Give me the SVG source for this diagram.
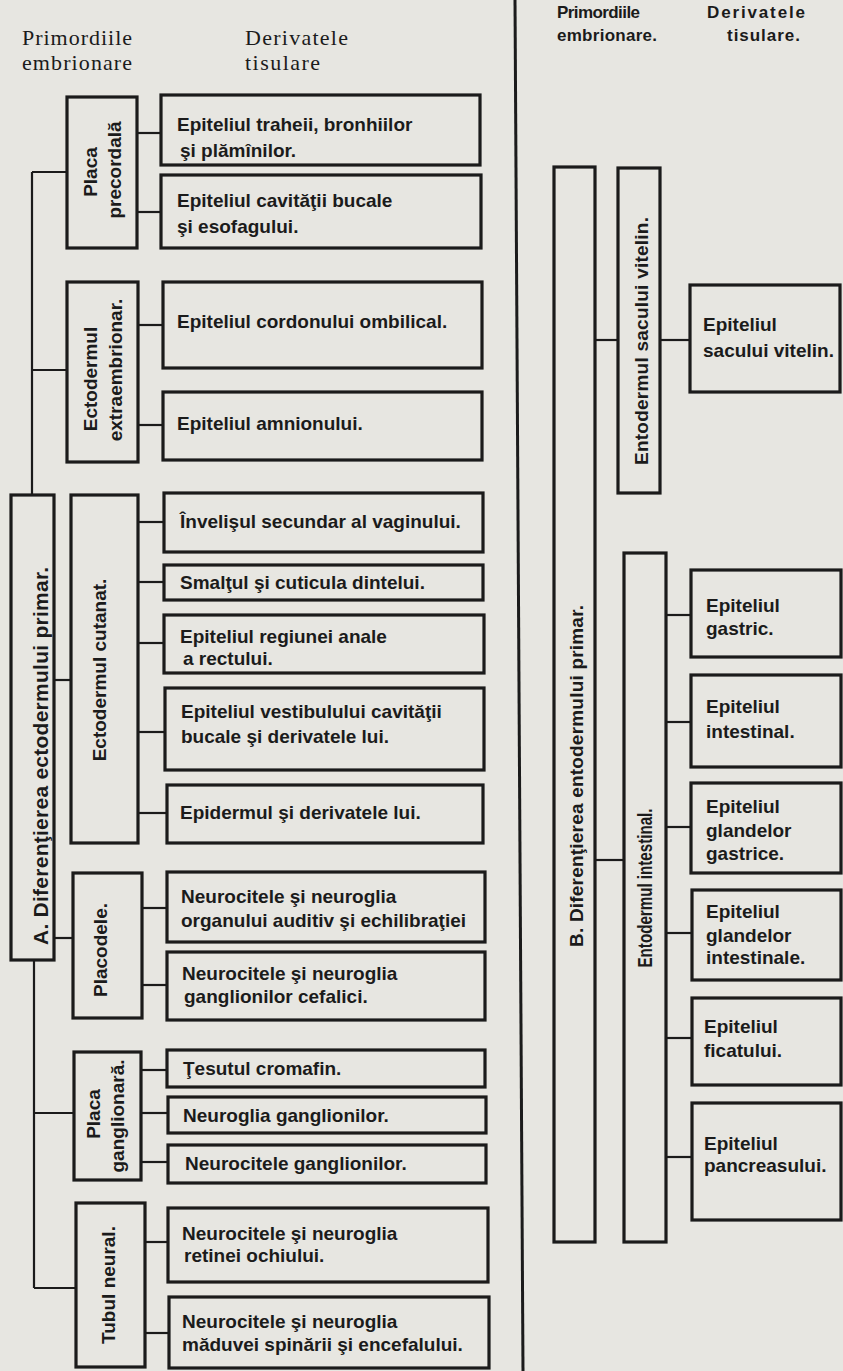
<svg xmlns="http://www.w3.org/2000/svg" width="843" height="1371" viewBox="0 0 843 1371">
<style>
.box{fill:none;stroke:#1b1b1b;stroke-width:3.2}
.conn line{stroke:#1b1b1b;stroke-width:2.2}
.t{font-family:"Liberation Sans",Arial,sans-serif;font-weight:bold;font-size:19px;fill:#1b1b1b}
.v{font-family:"Liberation Sans",Arial,sans-serif;font-weight:bold;font-size:19px;fill:#1b1b1b;text-anchor:middle}
.hs{font-family:"Liberation Serif","Times New Roman",serif;font-size:22px;fill:#1b1b1b}
.hb{font-family:"Liberation Sans",Arial,sans-serif;font-weight:bold;font-size:17px;fill:#1b1b1b}
</style>
<rect x="0" y="0" width="843" height="1371" fill="#e7e6e1"/>

<g id="headers">
<text class="hs" x="22" y="45" textLength="110">Primordiile</text>
<text class="hs" x="22" y="69.5" textLength="110">embrionare</text>
<text class="hs" x="245" y="45" textLength="103">Derivatele</text>
<text class="hs" x="245" y="69.5" textLength="75">tisulare</text>
<text class="hb" x="557" y="18" textLength="83">Primordiile</text>
<text class="hb" x="557" y="41" textLength="100">embrionare.</text>
<text class="hb" x="707" y="18" textLength="98">Derivatele</text>
<text class="hb" x="727" y="41" textLength="73">tisulare.</text>
</g>

<g id="connectors" class="conn">
<line x1="515" y1="0" x2="523" y2="1371" style="stroke-width:3"/>
<line x1="32" y1="172" x2="32" y2="495"/>
<line x1="32" y1="172" x2="67" y2="172"/>
<line x1="32" y1="370" x2="67" y2="370"/>
<line x1="34" y1="960" x2="34" y2="1288"/>
<line x1="34" y1="1113" x2="74" y2="1113"/>
<line x1="34" y1="1288" x2="76" y2="1288"/>
<line x1="54" y1="680" x2="71" y2="680"/>
<line x1="54" y1="938" x2="73" y2="938"/>
<line x1="137" y1="133" x2="161" y2="133"/>
<line x1="137" y1="212" x2="161" y2="212"/>
<line x1="138" y1="325" x2="163" y2="325"/>
<line x1="138" y1="425" x2="163" y2="425"/>
<line x1="138" y1="522" x2="164" y2="522"/>
<line x1="138" y1="582" x2="164" y2="582"/>
<line x1="138" y1="643" x2="164" y2="643"/>
<line x1="138" y1="732" x2="165" y2="732"/>
<line x1="138" y1="813" x2="167" y2="813"/>
<line x1="142" y1="908" x2="167" y2="908"/>
<line x1="142" y1="985" x2="167" y2="985"/>
<line x1="141" y1="1070" x2="167" y2="1070"/>
<line x1="141" y1="1113" x2="167" y2="1113"/>
<line x1="141" y1="1162" x2="168" y2="1162"/>
<line x1="145" y1="1242" x2="168" y2="1242"/>
<line x1="145" y1="1333" x2="168" y2="1333"/>
<line x1="595" y1="340" x2="618" y2="340"/>
<line x1="660" y1="340" x2="690" y2="340"/>
<line x1="595" y1="860" x2="624" y2="860"/>
<line x1="666" y1="615" x2="691" y2="615"/>
<line x1="666" y1="722" x2="691" y2="722"/>
<line x1="666" y1="827" x2="691" y2="827"/>
<line x1="666" y1="933" x2="692" y2="933"/>
<line x1="666" y1="1038" x2="692" y2="1038"/>
<line x1="666" y1="1157" x2="692" y2="1157"/>
</g>

<g id="placa-precordala">
<rect class="box" x="67" y="97" width="70" height="151"/>
<text class="v" transform="translate(97,172) rotate(-90)">Placa</text>
<text class="v" transform="translate(121,170) rotate(-90)">precordală</text>
</g>
<g id="ectoderm-extraembrionar">
<rect class="box" x="67" y="282" width="71" height="180"/>
<text class="v" transform="translate(97,379) rotate(-90)">Ectodermul</text>
<text class="v" transform="translate(122,370) rotate(-90)">extraembrionar.</text>
</g>
<g id="A-ectoderm-primar">
<rect class="box" x="11" y="495" width="43" height="465"/>
<text class="v" transform="translate(48,756) rotate(-90)" textLength="378" style="font-size:21px">A. Diferenţierea ectodermului primar.</text>
</g>
<g id="ectoderm-cutanat">
<rect class="box" x="71" y="495" width="67" height="348"/>
<text class="v" transform="translate(106,670) rotate(-90)">Ectodermul cutanat.</text>
</g>
<g id="placodele">
<rect class="box" x="73" y="873" width="69" height="145"/>
<text class="v" transform="translate(107,950) rotate(-90)">Placodele.</text>
</g>
<g id="placa-ganglionara">
<rect class="box" x="74" y="1052" width="67" height="128"/>
<text class="v" transform="translate(100,1114) rotate(-90)">Placa</text>
<text class="v" transform="translate(124,1116) rotate(-90)">ganglionară.</text>
</g>
<g id="tubul-neural">
<rect class="box" x="76" y="1203" width="69" height="164"/>
<text class="v" transform="translate(115,1285) rotate(-90)">Tubul neural.</text>
</g>

<g id="d1">
<rect class="box" x="161" y="95" width="319" height="70"/>
<text class="t" x="177" y="131">Epiteliul traheii, bronhiilor</text>
<text class="t" x="180" y="157">şi plămînilor.</text>
</g>
<g id="d2">
<rect class="box" x="161" y="175" width="320" height="73"/>
<text class="t" x="177" y="207">Epiteliul cavităţii bucale</text>
<text class="t" x="177" y="233">şi esofagului.</text>
</g>
<g id="d3">
<rect class="box" x="163" y="282" width="319" height="86"/>
<text class="t" x="177" y="328">Epiteliul cordonului ombilical.</text>
</g>
<g id="d4">
<rect class="box" x="163" y="392" width="319" height="68"/>
<text class="t" x="177" y="430">Epiteliul amnionului.</text>
</g>
<g id="d5">
<rect class="box" x="164" y="493" width="319" height="59"/>
<text class="t" x="180" y="528">Învelişul secundar al vaginului.</text>
</g>
<g id="d6">
<rect class="box" x="164" y="565" width="319" height="35"/>
<text class="t" x="180" y="589">Smalţul şi cuticula dintelui.</text>
</g>
<g id="d7">
<rect class="box" x="164" y="615" width="320" height="58"/>
<text class="t" x="180" y="643">Epiteliul regiunei anale</text>
<text class="t" x="183" y="665">a rectului.</text>
</g>
<g id="d8">
<rect class="box" x="165" y="688" width="319" height="82"/>
<text class="t" x="181" y="718">Epiteliul  vestibulului cavităţii</text>
<text class="t" x="181" y="743">bucale şi derivatele lui.</text>
</g>
<g id="d9">
<rect class="box" x="167" y="785" width="316" height="58"/>
<text class="t" x="180" y="819">Epidermul şi derivatele lui.</text>
</g>
<g id="d10">
<rect class="box" x="167" y="872" width="318" height="70"/>
<text class="t" x="181" y="903">Neurocitele şi neuroglia</text>
<text class="t" x="181" y="927">organului auditiv şi echilibraţiei</text>
</g>
<g id="d11">
<rect class="box" x="167" y="952" width="318" height="68"/>
<text class="t" x="182" y="980">Neurocitele şi neuroglia</text>
<text class="t" x="184" y="1003">ganglionilor cefalici.</text>
</g>
<g id="d12">
<rect class="box" x="167" y="1050" width="318" height="37"/>
<text class="t" x="183" y="1075">Ţesutul cromafin.</text>
</g>
<g id="d13">
<rect class="box" x="168" y="1097" width="318" height="36"/>
<text class="t" x="183" y="1122">Neuroglia  ganglionilor.</text>
</g>
<g id="d14">
<rect class="box" x="168" y="1145" width="318" height="38"/>
<text class="t" x="185" y="1170">Neurocitele ganglionilor.</text>
</g>
<g id="d15">
<rect class="box" x="168" y="1208" width="320" height="74"/>
<text class="t" x="182" y="1240">Neurocitele şi neuroglia</text>
<text class="t" x="184" y="1262">retinei ochiului.</text>
</g>
<g id="d16">
<rect class="box" x="169" y="1297" width="320" height="71"/>
<text class="t" x="182" y="1328">Neurocitele şi neuroglia</text>
<text class="t" x="182" y="1351">măduvei spinării şi encefalului.</text>
</g>

<g id="B-entoderm-primar">
<rect class="box" x="554" y="167" width="41" height="1075"/>
<text class="v" transform="translate(583,776) rotate(-90)" textLength="342">B. Diferenţierea entodermului primar.</text>
</g>
<g id="entoderm-sac-vitelin">
<rect class="box" x="618" y="168" width="42" height="325"/>
<text class="v" transform="translate(648,341) rotate(-90)" textLength="248">Entodermul sacului vitelin.</text>
</g>
<g id="entoderm-intestinal">
<rect class="box" x="624" y="553" width="42" height="689"/>
<text class="v" transform="translate(652,888) rotate(-90)" textLength="159" lengthAdjust="spacingAndGlyphs" style="font-size:21px">Entodermul intestinal.</text>
</g>
<g id="e1">
<rect class="box" x="690" y="285" width="150" height="107"/>
<text class="t" x="703" y="331">Epiteliul</text>
<text class="t" x="703" y="357">sacului vitelin.</text>
</g>
<g id="e2">
<rect class="box" x="691" y="570" width="150" height="87"/>
<text class="t" x="706" y="612">Epiteliul</text>
<text class="t" x="706" y="635">gastric.</text>
</g>
<g id="e3">
<rect class="box" x="691" y="675" width="150" height="92"/>
<text class="t" x="706" y="713">Epiteliul</text>
<text class="t" x="706" y="738">intestinal.</text>
</g>
<g id="e4">
<rect class="box" x="691" y="783" width="150" height="90"/>
<text class="t" x="706" y="813">Epiteliul</text>
<text class="t" x="706" y="837">glandelor</text>
<text class="t" x="706" y="860">gastrice.</text>
</g>
<g id="e5">
<rect class="box" x="692" y="890" width="149" height="90"/>
<text class="t" x="706" y="918">Epiteliul</text>
<text class="t" x="706" y="942">glandelor</text>
<text class="t" x="706" y="964">intestinale.</text>
</g>
<g id="e6">
<rect class="box" x="692" y="998" width="149" height="87"/>
<text class="t" x="704" y="1033">Epiteliul</text>
<text class="t" x="704" y="1057">ficatului.</text>
</g>
<g id="e7">
<rect class="box" x="692" y="1103" width="149" height="117"/>
<text class="t" x="704" y="1150">Epiteliul</text>
<text class="t" x="704" y="1172">pancreasului.</text>
</g>
</svg>
